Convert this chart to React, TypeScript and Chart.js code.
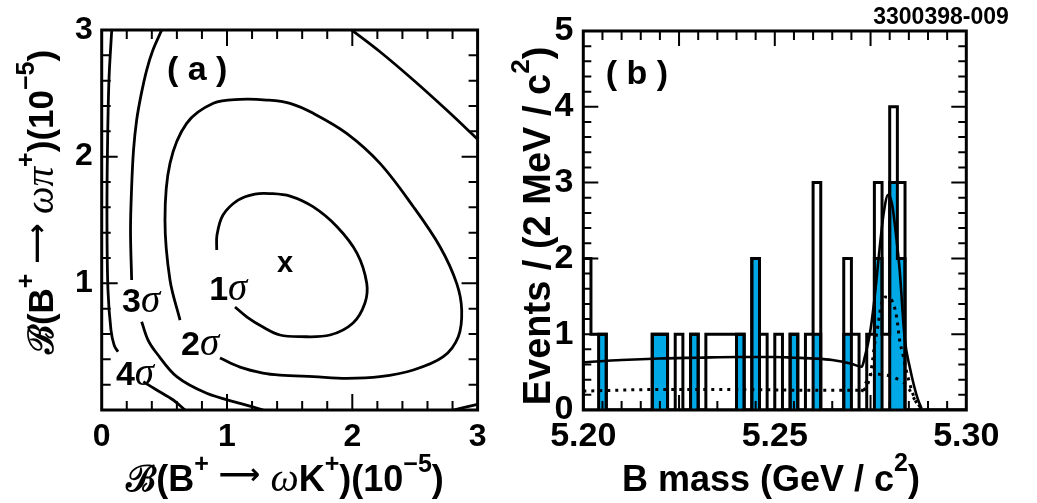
import React, { useEffect, useRef } from 'react';
import { Chart, registerables } from 'chart.js';

Chart.register(...registerables);

// ---------------- Panel (a): likelihood contours ----------------
const SIG1_X = [0.918, 0.92, 0.968, 1.088, 1.223, 1.343, 1.503, 1.686, 1.878, 2.037, 2.115, 2.101, 2.006, 1.822, 1.583, 1.423, 1.287, 1.16, 1.064];
const SIG1_Y = [1.263, 1.381, 1.539, 1.657, 1.705, 1.709, 1.689, 1.605, 1.447, 1.239, 1.002, 0.845, 0.687, 0.592, 0.579, 0.592, 0.655, 0.734, 0.813];

const SIG2_X = [0.625, 0.545, 0.505, 0.545, 0.678, 0.891, 1.104, 1.317, 1.503, 1.689, 1.955, 2.221, 2.487, 2.7, 2.833, 2.873, 2.846, 2.726, 2.487, 2.221, 1.955, 1.689, 1.423, 1.287, 1.104, 0.944];
const SIG2_Y = [0.71, 1.026, 1.5, 1.947, 2.263, 2.421, 2.452, 2.447, 2.421, 2.342, 2.184, 1.947, 1.605, 1.289, 1.0, 0.789, 0.579, 0.421, 0.316, 0.263, 0.25, 0.263, 0.276, 0.292, 0.339, 0.41];

const SIG3_UP_X = [0.479, 0.409, 0.359, 0.314, 0.279, 0.254, 0.239, 0.23, 0.239];
const SIG3_UP_Y = [3.0, 2.842, 2.684, 2.486, 2.289, 2.052, 1.762, 1.421, 1.026];
const SIG3_LOW_X = [0.319, 0.37, 0.439, 0.599, 0.838, 1.104, 1.29];
const SIG3_LOW_Y = [0.697, 0.552, 0.448, 0.263, 0.132, 0.053, 0.0];
const SIG3_RIGHT_X = [1.995, 2.221, 2.487, 2.753, 3.0];
const SIG3_RIGHT_Y = [3.0, 2.828, 2.605, 2.368, 2.138];
const SIG3_CORNER_X = [2.806, 3.0];
const SIG3_CORNER_Y = [0.0, 0.045];

const SIG4_UP_X = [0.08, 0.058, 0.046, 0.042, 0.05, 0.074, 0.1, 0.13];
const SIG4_UP_Y = [3.0, 2.605, 2.052, 1.5, 0.947, 0.631, 0.51, 0.46];
const SIG4_LOW_X = [0.332, 0.439, 0.571, 0.665];
const SIG4_LOW_Y = [0.223, 0.158, 0.079, 0.0];

const A_TICKS = [0, 1, 2, 3];

// ---------------- Panel (b): B mass histogram ----------------
const MASS_MIN = 5.2;
const MASS_MAX = 5.3;
const BIN_WIDTH = 0.002;
const TOTAL_COUNTS = [2, 1, 1, 0, 0, 0, 0, 0, 0, 1, 1, 0, 1, 0, 1, 0, 1, 1, 1, 1, 1, 0, 2, 1, 0, 1, 0, 1, 0, 1, 3, 0, 0, 0, 2, 1, 0, 1, 3, 1, 4, 3, 0, 0, 0, 0, 0, 0, 0, 0];
const BLUE_COUNTS = [0, 0, 1, 0, 0, 0, 0, 0, 0, 1, 1, 0, 0, 0, 1, 0, 0, 0, 0, 0, 1, 0, 2, 0, 0, 0, 0, 1, 0, 0, 1, 0, 0, 0, 1, 0, 0, 0, 2, 0, 3, 2, 0, 0, 0, 0, 0, 0, 0, 0];

const FIT_X = [5.2, 5.21, 5.22, 5.23, 5.24, 5.25, 5.255, 5.26, 5.265, 5.27, 5.2727, 5.2735, 5.2748, 5.2761, 5.2774, 5.2785, 5.2796, 5.2806, 5.2818, 5.2826, 5.2839, 5.2853, 5.2863, 5.2873, 5.2883];
const FIT_Y = [0.63, 0.66, 0.68, 0.69, 0.7, 0.7, 0.69, 0.68, 0.66, 0.61, 0.57, 0.7, 1.0, 1.5, 2.15, 2.62, 2.84, 2.72, 2.24, 1.85, 0.95, 0.55, 0.33, 0.15, 0.02];

const DOT_X = [5.2, 5.22, 5.24, 5.26, 5.2727, 5.2744, 5.2753, 5.2761, 5.2766, 5.2779, 5.2788, 5.2805, 5.2818, 5.2826, 5.2835, 5.2842, 5.2855, 5.2866, 5.2875, 5.2882];
const DOT_Y = [0.25, 0.27, 0.27, 0.26, 0.26, 0.36, 0.57, 0.88, 1.01, 1.41, 1.49, 1.45, 1.23, 0.92, 0.72, 0.55, 0.3, 0.14, 0.05, 0.0];

const DASH_X = [5.2727, 5.274, 5.2755, 5.2775, 5.28, 5.282, 5.2835, 5.285, 5.2865, 5.2878, 5.2885];
const DASH_Y = [0.24, 0.38, 0.48, 0.47, 0.45, 0.41, 0.37, 0.28, 0.14, 0.05, 0.0];

const B_TICKS = [0, 1, 2, 3, 4, 5];

// ---------------- helpers ----------------
const SANS = '"Liberation Sans", Arial, Helvetica, sans-serif';
const SERIF = '"Liberation Serif", "DejaVu Serif", serif';
const BLUE = '#00A8E6';

const xy = (xs: number[], ys: number[]) => xs.map((x, i) => ({ x, y: ys[i] }));

const histPoints = (counts: number[]) => {
  const pts = [{ x: MASS_MIN, y: 0 }];
  counts.forEach((c, i) => pts.push({ x: MASS_MIN + i * BIN_WIDTH, y: c }));
  pts.push({ x: MASS_MIN + counts.length * BIN_WIDTH, y: 0 });
  return pts;
};

type Seg = { t: string; f: string; dy?: number };

function drawRich(ctx: CanvasRenderingContext2D, segs: Seg[], cx: number, baseY: number, rot = 0) {
  ctx.save();
  ctx.translate(cx, baseY);
  if (rot) ctx.rotate(rot);
  let w = 0;
  for (const s of segs) {
    ctx.font = s.f;
    w += ctx.measureText(s.t).width;
  }
  let x = -w / 2;
  ctx.textAlign = 'left';
  ctx.textBaseline = 'alphabetic';
  ctx.fillStyle = '#000';
  for (const s of segs) {
    ctx.font = s.f;
    ctx.fillText(s.t, x, s.dy || 0);
    x += ctx.measureText(s.t).width;
  }
  ctx.restore();
}

function tickList(min: number, max: number, step: number, majStep: number, majLen: number, minLen: number) {
  const out: [number, number][] = [];
  const n = Math.round((max - min) / step);
  for (let i = 1; i < n; i++) {
    const v = min + i * step;
    const r = (v - min) / majStep;
    out.push([v, Math.abs(r - Math.round(r)) < 1e-6 ? majLen : minLen]);
  }
  return out;
}

function drawFrame(chart: any, xt: [number, number][], yt: [number, number][], lw: number) {
  const { ctx, chartArea: a, scales } = chart;
  const xs = scales.x;
  const ys = scales.y;
  ctx.save();
  ctx.strokeStyle = '#000';
  ctx.lineWidth = 2;
  ctx.beginPath();
  for (const [v, L] of xt) {
    const p = xs.getPixelForValue(v);
    ctx.moveTo(p, a.bottom);
    ctx.lineTo(p, a.bottom - L);
    ctx.moveTo(p, a.top);
    ctx.lineTo(p, a.top + L);
  }
  for (const [v, L] of yt) {
    const p = ys.getPixelForValue(v);
    ctx.moveTo(a.left, p);
    ctx.lineTo(a.left + L, p);
    ctx.moveTo(a.right, p);
    ctx.lineTo(a.right - L, p);
  }
  ctx.stroke();
  ctx.lineWidth = lw;
  ctx.strokeRect(a.left, a.top, a.right - a.left, a.bottom - a.top);
  ctx.restore();
}

const B = (s: number) => `bold ${s}px ${SANS}`;
const G = (s: number) => `italic ${s}px ${SERIF}`;
const SCR = (s: number) => `bold ${s}px "DejaVu Serif", serif`;
const ARROW = (s: number) => `bold ${s}px "DejaVu Sans", sans-serif`;

const leftPlugin = {
  id: 'leftDecor',
  afterDatasetsDraw(chart: any) {
    drawFrame(
      chart,
      tickList(0, 3, 0.2, 1, 16, 9),
      tickList(0, 3, 0.2, 1, 16, 9),
      3
    );
  },
  afterDraw(chart: any) {
    const { ctx, scales } = chart;
    const px = (v: number) => scales.x.getPixelForValue(v);
    const py = (v: number) => scales.y.getPixelForValue(v);
    ctx.save();
    ctx.fillStyle = '#000';
    ctx.textAlign = 'center';
    ctx.textBaseline = 'middle';
    ctx.font = B(34);
    ctx.fillText('( a )', px(0.762), py(2.676));
    ctx.font = B(29);
    ctx.fillText('x', px(1.464), py(1.15));
    ctx.restore();
    const sig = (n: string, vx: number, vy: number) =>
      drawRich(ctx, [{ t: n, f: B(34) }, { t: 'σ', f: G(39) }], px(vx), py(vy) + 12);
    sig('1', 1.01, 0.963);
    sig('2', 0.786, 0.529);
    sig('3', 0.314, 0.868);
    sig('4', 0.266, 0.292);
    // axis titles
    drawRich(
      ctx,
      [
        { t: 'ℬ', f: SCR(36) },
        { t: '(B', f: B(36) },
        { t: '+', f: B(25), dy: -19 },
        { t: ' ⟶ ', f: ARROW(29), dy: -7 },
        { t: 'ω', f: G(40) },
        { t: 'K', f: B(36) },
        { t: '+', f: B(25), dy: -19 },
        { t: ')(10', f: B(36) },
        { t: '−5', f: B(25), dy: -19 },
        { t: ')', f: B(36) },
      ],
      285,
      491
    );
    drawRich(
      ctx,
      [
        { t: 'ℬ', f: SCR(35) },
        { t: '(B', f: B(35) },
        { t: '+', f: B(25), dy: -19 },
        { t: ' ⟶ ', f: ARROW(28), dy: -7 },
        { t: 'ωπ', f: G(39) },
        { t: '+', f: B(25), dy: -19 },
        { t: ')(10', f: B(35) },
        { t: '−5', f: B(25), dy: -19 },
        { t: ')', f: B(35) },
      ],
      53,
      202,
      -Math.PI / 2
    );
  },
};

const rightPlugin = {
  id: 'rightDecor',
  afterDatasetsDraw(chart: any) {
    drawFrame(
      chart,
      tickList(MASS_MIN, MASS_MAX, 0.005, 0.025, 15, 9),
      tickList(0, 5, 0.2, 1, 15, 8),
      3
    );
  },
  afterDraw(chart: any) {
    const { ctx, scales } = chart;
    const px = (v: number) => scales.x.getPixelForValue(v);
    const py = (v: number) => scales.y.getPixelForValue(v);
    ctx.save();
    ctx.fillStyle = '#000';
    ctx.textAlign = 'center';
    ctx.textBaseline = 'middle';
    ctx.font = B(34);
    ctx.fillText('( b )', px(5.214), py(4.42));
    ctx.font = B(23);
    ctx.fillText('3300398-009', 441, 18);
    ctx.restore();
    drawRich(
      ctx,
      [
        { t: 'B mass (GeV / c', f: B(36) },
        { t: '2', f: B(25), dy: -20 },
        { t: ')', f: B(36) },
      ],
      271,
      491
    );
    drawRich(
      ctx,
      [
        { t: 'Events / (2 MeV / c', f: B(38) },
        { t: '2', f: B(26), dy: -21 },
        { t: ')', f: B(38) },
      ],
      50,
      226,
      -Math.PI / 2
    );
  },
};

function contour(xs: number[], ys: number[]) {
  return {
    data: xy(xs, ys),
    borderColor: '#000',
    borderWidth: 2.8,
    pointRadius: 0,
    tension: 0.35,
    fill: false,
  };
}

function LeftPanel() {
  const ref = useRef<HTMLCanvasElement>(null);
  useEffect(() => {
    const chart = new Chart(ref.current!, {
      type: 'line',
      data: {
        datasets: [
          contour(SIG1_X, SIG1_Y),
          contour(SIG2_X, SIG2_Y),
          contour(SIG3_UP_X, SIG3_UP_Y),
          contour(SIG3_LOW_X, SIG3_LOW_Y),
          contour(SIG3_RIGHT_X, SIG3_RIGHT_Y),
          contour(SIG3_CORNER_X, SIG3_CORNER_Y),
          contour(SIG4_UP_X, SIG4_UP_Y),
          contour(SIG4_LOW_X, SIG4_LOW_Y),
        ] as any,
      },
      options: {
        animation: false,
        responsive: false,
        devicePixelRatio: 1,
        layout: { padding: { top: 30, right: 22.4, left: 0, bottom: 0 } },
        plugins: { legend: { display: false }, tooltip: { enabled: false } },
        scales: {
          x: {
            type: 'linear',
            min: 0,
            max: 3,
            afterFit: (s: any) => { s.height = 93; },
            afterBuildTicks: (s: any) => { s.ticks = A_TICKS.map((v) => ({ value: v })); },
            grid: { display: false, drawTicks: false },
            border: { display: false },
            ticks: { color: '#000', font: { family: SANS, size: 32, weight: 'bold' }, padding: 8, maxRotation: 0 },
          },
          y: {
            type: 'linear',
            min: 0,
            max: 3,
            afterFit: (s: any) => { s.width = 101.7; },
            afterBuildTicks: (s: any) => { s.ticks = A_TICKS.filter((v) => v > 0).map((v) => ({ value: v })); },
            grid: { display: false, drawTicks: false },
            border: { display: false },
            ticks: { color: '#000', font: { family: SANS, size: 32, weight: 'bold' }, padding: 9 },
          },
        },
      },
      plugins: [leftPlugin],
    });
    return () => chart.destroy();
  }, []);
  return <canvas ref={ref} width={500} height={503} style={{ position: 'absolute', left: 0, top: 0 }} />;
}

function RightPanel() {
  const ref = useRef<HTMLCanvasElement>(null);
  useEffect(() => {
    const chart = new Chart(ref.current!, {
      type: 'line',
      data: {
        datasets: [
          {
            data: xy(FIT_X, FIT_Y),
            borderColor: '#000',
            borderWidth: 2.6,
            pointRadius: 0,
            cubicInterpolationMode: 'monotone',
            fill: false,
            order: 0,
          },
          {
            data: xy(DOT_X, DOT_Y),
            borderColor: '#000',
            borderWidth: 3,
            borderDash: [3, 5],
            pointRadius: 0,
            cubicInterpolationMode: 'monotone',
            fill: false,
            order: 1,
          },
          {
            data: xy(DASH_X, DASH_Y),
            borderColor: '#000',
            borderWidth: 3,
            borderDash: [3, 6],
            pointRadius: 0,
            cubicInterpolationMode: 'monotone',
            fill: false,
            order: 2,
          },
          {
            data: histPoints(TOTAL_COUNTS),
            borderColor: '#000',
            borderWidth: 3,
            pointRadius: 0,
            stepped: 'before',
            fill: false,
            order: 3,
          },
          {
            data: histPoints(BLUE_COUNTS),
            borderColor: '#000',
            backgroundColor: BLUE,
            borderWidth: 3,
            pointRadius: 0,
            stepped: 'before',
            fill: 'origin',
            order: 4,
          },
        ] as any,
      },
      options: {
        animation: false,
        responsive: false,
        devicePixelRatio: 1,
        layout: { padding: { top: 31, right: 70.7, left: 0, bottom: 0 } },
        plugins: { legend: { display: false }, tooltip: { enabled: false } },
        scales: {
          x: {
            type: 'linear',
            min: MASS_MIN,
            max: MASS_MAX,
            afterFit: (s: any) => { s.height = 93; },
            afterBuildTicks: (s: any) => { s.ticks = [5.2, 5.25, 5.3].map((v) => ({ value: v })); },
            grid: { display: false, drawTicks: false },
            border: { display: false },
            ticks: {
              color: '#000',
              font: { family: SANS, size: 34, weight: 'bold' },
              padding: 6,
              maxRotation: 0,
              callback: (v: any) => Number(v).toFixed(2),
            },
          },
          y: {
            type: 'linear',
            min: 0,
            max: 5,
            afterFit: (s: any) => { s.width = 83.3; },
            afterBuildTicks: (s: any) => { s.ticks = B_TICKS.map((v) => ({ value: v })); },
            grid: { display: false, drawTicks: false },
            border: { display: false },
            ticks: { color: '#000', font: { family: SANS, size: 34, weight: 'bold' }, padding: 10 },
          },
        },
      },
      plugins: [rightPlugin],
    });
    return () => chart.destroy();
  }, []);
  return <canvas ref={ref} width={537} height={503} style={{ position: 'absolute', left: 500, top: 0 }} />;
}

export default function App() {
  return (
    <div style={{ position: 'absolute', left: 0, top: 0, width: 1037, height: 503, background: '#fff' }}>
      <LeftPanel />
      <RightPanel />
    </div>
  );
}
